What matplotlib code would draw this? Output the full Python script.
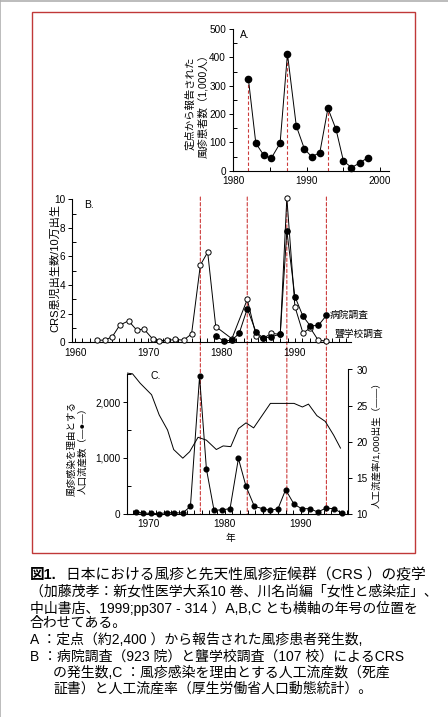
import matplotlib
matplotlib.use("Agg")
import matplotlib.pyplot as plt
from matplotlib.patches import Rectangle, ConnectionPatch
from matplotlib.lines import Line2D
from matplotlib.ticker import MultipleLocator, FuncFormatter
from matplotlib.transforms import blended_transform_factory

plt.rcParams['font.family'] = ['Liberation Sans', 'Noto Sans CJK JP']
plt.rcParams['axes.unicode_minus'] = False

# --- A: rubella cases reported from sentinel points (x1000)
a_years = [1982.1, 1983.1, 1984.2, 1985.2, 1986.4, 1987.4, 1988.6, 1989.7,
           1990.7, 1991.8, 1992.9, 1994.0, 1995.0, 1996.1, 1997.2, 1998.3]
a_cases = [322, 97, 54, 44, 97, 412, 158, 77, 49, 64, 220, 146, 35, 11, 27, 46]
a_peak_idx = [0, 5, 10]

# --- B: CRS births per 100,000 births
b_school_years = [1963.0, 1964.1, 1965.1, 1966.1, 1967.3, 1968.4, 1969.4, 1970.6,
                  1971.5, 1972.6, 1973.7, 1974.8, 1975.9, 1977.1, 1978.1, 1979.2,
                  1981.4, 1983.5, 1984.7, 1985.7, 1986.8, 1988.0, 1988.9, 1990.0,
                  1991.1, 1992.1, 1993.2, 1994.3]
b_school = [0.15, 0.15, 0.4, 1.2, 1.5, 0.86, 0.93, 0.23, 0.12, 0.13, 0.2, 0.15,
            0.58, 5.4, 6.3, 1.1, 0.25, 3.0, 0.47, 0.28, 0.63, 0.55, 10.1, 2.5,
            0.65, 1.0, 0.13, 0.1]
b_hosp_years = [1979.2, 1980.3, 1981.4, 1982.4, 1983.5, 1984.7, 1985.7, 1986.8,
                1988.0, 1988.9, 1990.0, 1991.1, 1992.1, 1993.2, 1994.3]
b_hosp = [0.44, 0.1, 0.14, 0.63, 2.35, 0.72, 0.28, 0.4, 0.56, 7.8, 3.2, 1.82,
          1.15, 1.18, 1.88]
epidemic_years = [1977.1, 1983.5, 1988.9, 1994.3]

# --- C: induced abortions due to rubella (count) and abortion rate
c_years = [1968.3, 1969.3, 1970.3, 1971.4, 1972.4, 1973.4, 1974.5, 1975.5, 1976.7,
           1977.6, 1978.6, 1979.7, 1980.7, 1981.8, 1982.8, 1983.9, 1985.0, 1986.0,
           1987.0, 1988.0, 1989.1, 1990.1, 1991.2, 1992.2, 1993.3, 1994.3, 1995.4]
c_abort = [30, 12, 5, 0, 20, 15, 15, 130, 2460, 800, 60, 70, 90, 990, 490, 130,
           90, 60, 90, 430, 170, 90, 90, 30, 100, 90, 10]
c_rate_years = [1967.2, 1967.9, 1968.9, 1970.4, 1971.4, 1972.5, 1973.3, 1974.5,
                1975.4, 1976.5, 1977.6, 1978.9, 1979.8, 1980.8, 1981.8, 1982.8,
                1983.8, 1984.9, 1986.0, 1987.0, 1988.1, 1989.1, 1990.2, 1991.0,
                1992.1, 1993.2, 1994.3, 1995.2]
c_rate = [29.5, 29.4, 28.1, 26.5, 23.7, 21.6, 18.9, 17.7, 18.6, 20.6, 20.2, 18.9,
          19.4, 19.3, 21.8, 22.6, 21.9, 23.6, 25.3, 25.3, 25.3, 25.3, 24.8, 25.2,
          23.6, 22.8, 20.9, 19.1]

caption = [
    "（加藤茂孝：新女性医学大系10 巻、川名尚編「女性と感染症」、",
    "中山書店、1999;pp307 - 314 ）A,B,C とも横軸の年号の位置を",
    "合わせてある。",
    "A ：定点（約2,400 ）から報告された風疹患者発生数,",
    "B ：病院調査（923 院）と聾学校調査（107 校）によるCRS",
    "の発生数,C ：風疹感染を理由とする人工流産数（死産",
    "証書）と人工流産率（厚生労働省人口動態統計）。",
]

W, H = 448, 717
fig = plt.figure(figsize=(W / 100, H / 100), dpi=100)


def box(left, top, right, bottom):
    return fig.add_axes([left / W, 1 - bottom / H, (right - left) / W, (bottom - top) / H])


RED = '#cc3a3a'
TICK = 7.2

# ---------------- A
axa = box(233, 29, 389, 170.7)
for i in a_peak_idx:
    axa.vlines(a_years[i], 0, a_cases[i], colors=RED, linestyles=(0, (3, 2)), lw=0.8, zorder=1)
axa.plot(a_years, a_cases, '-o', color='black', lw=0.7, ms=4.5, zorder=3, clip_on=False)
axa.set_xlim(1980, 2001.2)
axa.set_ylim(0, 500)
axa.xaxis.set_major_locator(MultipleLocator(10))
axa.xaxis.set_minor_locator(MultipleLocator(5))
axa.yaxis.set_major_locator(MultipleLocator(100))
axa.yaxis.set_minor_locator(MultipleLocator(50))
axa.text(1981.0, 478, 'A.', fontsize=7.5, va='center')

# ---------------- B
axb = box(72.1, 199.3, 350.6, 342.3)
axb.plot(b_school_years, b_school, '-o', color='black', lw=0.7, ms=3.8,
         mfc='white', mec='black', mew=0.7, zorder=3, clip_on=False)
axb.plot(b_hosp_years, b_hosp, '-o', color='black', lw=0.7, ms=3.8, zorder=4, clip_on=False)
axb.set_xlim(1959.6, 1997.6)
axb.set_ylim(0, 10)
axb.xaxis.set_major_locator(MultipleLocator(10))
axb.xaxis.set_minor_locator(MultipleLocator(1))
axb.yaxis.set_major_locator(MultipleLocator(2))
axb.yaxis.set_minor_locator(MultipleLocator(1))
axb.text(1961.3, 9.6, 'B.', fontsize=7.5, va='center')
axb.text(1994.8, b_hosp[-1], '病院調査', fontsize=7, va='center')
axb.text(1995.4, 0.58, '聾学校調査', fontsize=7, va='center')

# ---------------- C
axc = box(127.2, 369.5, 348.1, 513.7)
axc.plot(c_years, c_abort, '-o', color='black', lw=0.7, ms=3.4, zorder=3, clip_on=False)
axc.set_xlim(1967.2, 1996.2)
axc.set_ylim(0, 2585)
axc.xaxis.set_major_locator(MultipleLocator(10))
axc.xaxis.set_minor_locator(MultipleLocator(1))
axc.yaxis.set_major_locator(MultipleLocator(1000))
axc.yaxis.set_minor_locator(MultipleLocator(500))
axc.yaxis.set_major_formatter(FuncFormatter(lambda v, p: f'{int(v):,}'))
axc.spines['left'].set_bounds(0, 2500)
axc.text(1970.2, 2468, 'C.', fontsize=7.5, va='center')

axr = axc.twinx()
axr.plot(c_rate_years, c_rate, '-', color='black', lw=0.7, zorder=2)
axr.set_ylim(10, 30)
axr.yaxis.set_major_locator(MultipleLocator(5))
for s in ['top', 'left', 'bottom']:
    axr.spines[s].set_visible(False)
axr.spines['right'].set_linewidth(0.8)
axr.tick_params(axis='y', direction='out', length=3, width=0.7, labelsize=TICK, pad=3)

for ax in (axa, axb, axc):
    ax.patch.set_visible(False)
    for s in ['top', 'right']:
        ax.spines[s].set_visible(False)
    for s in ['left', 'bottom']:
        ax.spines[s].set_linewidth(0.8)
    ax.tick_params(axis='x', which='both', direction='in', length=3, width=0.7,
                   labelsize=TICK, pad=4)
    ax.tick_params(axis='y', which='major', direction='out', length=3, width=0.7,
                   labelsize=TICK, pad=2)
    ax.tick_params(axis='y', which='minor', direction='in', length=3, width=0.7)
axc.spines['right'].set_visible(False)

# epidemic reference lines running through B and C (behind the data)
bottom_tf = blended_transform_factory(axb.transData, axc.transAxes)
for yr in epidemic_years:
    cp = ConnectionPatch(xyA=(yr, 10.16), coordsA=axb.transData,
                         xyB=(yr, 0), coordsB=bottom_tf,
                         color=RED, lw=0.8, linestyle=(0, (3, 2)), zorder=-1)
    fig.add_artist(cp)

# axis labels
fig.text(196.7 / W, 1 - 103 / H, '定点から報告された\n風疹患者数（1,000人）',
         rotation=90, ha='center', va='center', fontsize=7.5, linespacing=1.3)
fig.text(55 / W, 1 - 268 / H, 'CRS患児出生数/10万出生', rotation=90,
         ha='center', va='center', fontsize=8)
fig.text(77.5 / W, 1 - 448 / H, '風疹感染を理由とする\n人口流産数（—●—）',
         rotation=90, ha='center', va='center', fontsize=6.8, linespacing=1.25)
fig.text(376.7 / W, 1 - 443 / H, '人工流産率/1,000出生（——）', rotation=90,
         ha='center', va='center', fontsize=6.8)
fig.text(230 / W, 1 - 538 / H, '年', ha='center', va='center', fontsize=7)

# frames
fig.add_artist(Rectangle((32 / W, 1 - 553 / H), (415 - 32) / W, (553 - 12) / H,
                         transform=fig.transFigure, fill=False, ec='#c03838', lw=1.0))
fig.add_artist(Line2D([0, 1], [0.999, 0.999], transform=fig.transFigure, color='#b0b0b0', lw=1.2))
fig.add_artist(Line2D([0.001, 0.001], [0, 1], transform=fig.transFigure, color='#b0b0b0', lw=1.2))

# caption
CAP = 10
fig.text(30 / W, 1 - 575 / H, '図1.', fontsize=CAP + 0.5, fontweight='bold', va='center')
fig.text(66 / W, 1 - 575 / H, '日本における風疹と先天性風疹症候群（CRS ）の疫学',
         fontsize=CAP + 0.6, va='center')
cap_y = [591.7, 608.3, 623.5, 640.5, 657, 673, 688.7]
cap_x = [30, 30, 30, 30, 30, 53, 53]
for txt, x, y in zip(caption, cap_x, cap_y):
    fig.text(x / W, 1 - y / H, txt, fontsize=CAP, va='center')

fig.savefig('out.png', dpi=100)
